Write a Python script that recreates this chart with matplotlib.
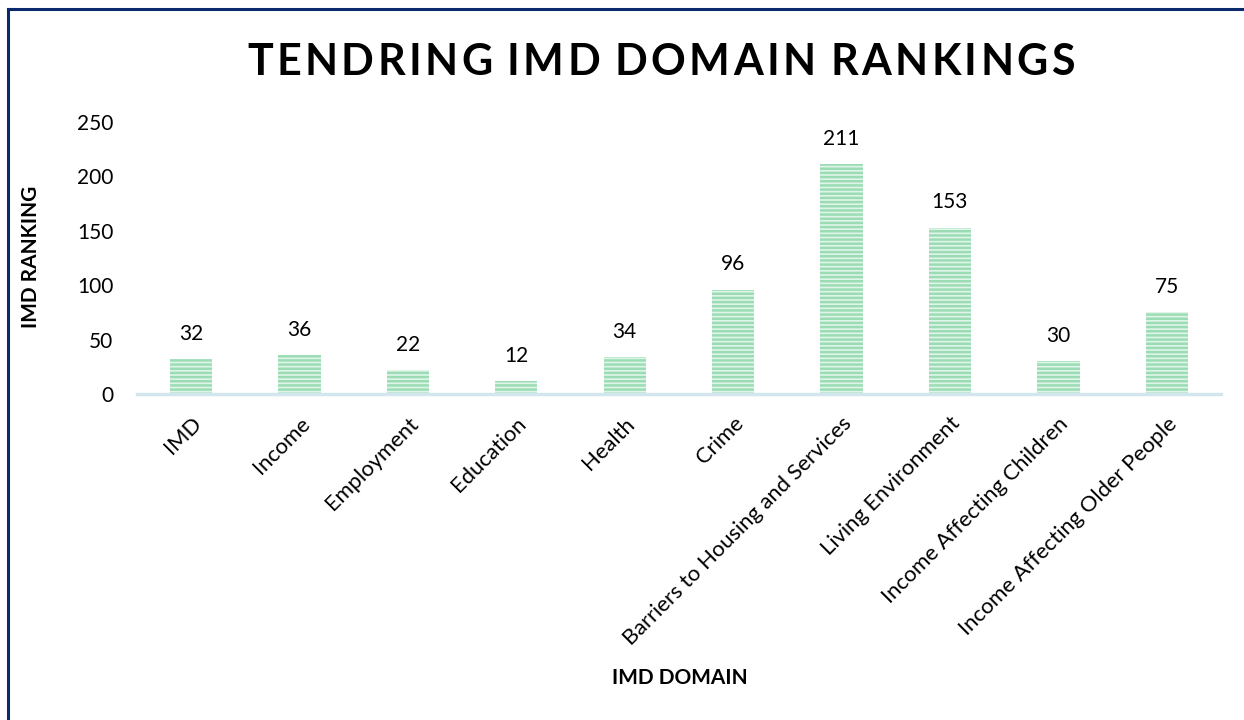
import matplotlib
matplotlib.use("Agg")
import matplotlib.pyplot as plt
from matplotlib.lines import Line2D

categories = ["IMD", "Income", "Employment", "Education", "Health", "Crime",
              "Barriers to Housing and Services", "Living Environment",
              "Income Affecting Children", "Income Affecting Older People"]
values = [32, 36, 22, 12, 34, 96, 211, 153, 30, 75]
yticks = [0, 50, 100, 150, 200, 250]
title = "TENDRING IMD DOMAIN RANKINGS"

plt.rcParams['font.family'] = ['Lato', 'DejaVu Sans']
plt.rcParams['hatch.linewidth'] = 1.8

W, H = 1244, 720
fig = plt.figure(figsize=(W / 100, H / 100), dpi=100)
ax = fig.add_axes([0.110, 0.4528, 0.8715, 0.3778])

x = list(range(len(categories)))
ax.bar(x, values, width=0.39, color='#e0f5e9', edgecolor='#9cdcb5',
       hatch='----', linewidth=0, zorder=2)
for xi, v in zip(x, values):
    ax.annotate(str(v), (xi, v), xytext=(0, 11), textcoords='offset points',
                ha='center', va='bottom', fontsize=15, color='#000000')

ax.set_xlim(-0.5, len(categories) - 0.5)
ax.set_ylim(0, 250)
ax.set_yticks(yticks)
ax.set_yticklabels([str(t) for t in yticks], fontsize=15)
ax.set_xticks(x)
ax.set_xticklabels(categories, rotation=45, ha='right', rotation_mode='anchor',
                   fontsize=15.8)
ax.tick_params(axis='y', length=0, pad=17)
ax.tick_params(axis='x', length=0, pad=14)
for s in ['top', 'right', 'left']:
    ax.spines[s].set_visible(False)
ax.spines['bottom'].set_color('#d3e6ee')
ax.spines['bottom'].set_linewidth(2.5)

# Title with letter spacing
renderer = fig.canvas.get_renderer()
target_w = 828.0
cx = 661.0
cy = 62.0
chars = list(title)
widths = []
for ch in chars:
    t = fig.text(0, 0, ch if ch != " " else "I", fontsize=31, fontweight='bold')
    bb = t.get_window_extent(renderer)
    widths.append(bb.width * (0.6 if ch == " " else 1.0))
    t.remove()
gap = (target_w - sum(widths)) / (len(chars) - 1)
xpos = cx - target_w / 2
for ch, w in zip(chars, widths):
    if ch != " ":
        fig.text(xpos / W, 1 - cy / H, ch, fontsize=31, fontweight='bold',
                 ha='left', va='center')
    xpos += w + gap

fig.text(680 / W, 1 - 678 / H, "IMD DOMAIN", ha='center', va='center',
         fontsize=15, fontweight='bold')
fig.text(31 / W, 1 - 257 / H, "IMD RANKING", ha='center', va='center',
         fontsize=15, fontweight='bold', rotation=90)

fig.add_artist(Line2D([0.0065, 0.0065], [0.0, 0.9875], color='#0b2a6e',
                      linewidth=2.2, transform=fig.transFigure))
fig.add_artist(Line2D([0.0065, 1.0], [0.9875, 0.9875], color='#0b2a6e',
                      linewidth=2.2, transform=fig.transFigure))

fig.savefig("out.png", dpi=100)
